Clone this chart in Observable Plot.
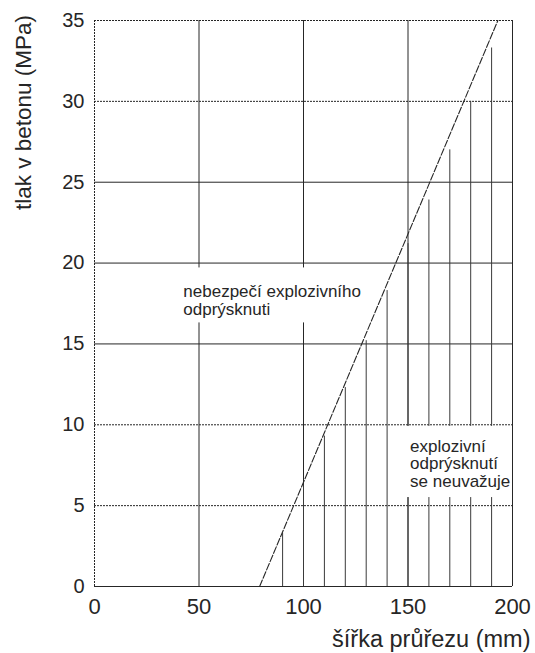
<!DOCTYPE html>
<html>
<head>
<meta charset="utf-8">
<script src="https://cdn.jsdelivr.net/npm/d3@7"></script>
<script src="https://cdn.jsdelivr.net/npm/@observablehq/plot@0.6"></script>
<style>
  html, body { margin: 0; padding: 0; background: #fff; }
  #chart { width: 535px; height: 653px; }
</style>
</head>
<body>
<div id="chart"></div>
<script>
// Axis ticks
const xTicks = [0, 50, 100, 150, 200];
const yTicks = [0, 5, 10, 15, 20, 25, 30, 35];

// Grid: solid vs. dotted horizontal lines, vertical lines
const gridYSolid = [15, 20, 25];
const gridYDotted = [5, 10, 30];
const gridX = [50, 100, 150];

// Boundary line between the two regions (width in mm, pressure in MPa)
const boundaryWidth = [79, 193];
const boundaryPressure = [0, 35];

// Hatching under the boundary
const hatchWidth = [90, 100, 110, 120, 130, 140, 150, 160, 170, 180, 190];
const hatchTop = [3.3, 6.3, 9.3, 12.3, 15.2, 18.3, 21.2, 23.9, 27.0, 30.0, 33.3];

// Region labels
const noteLines = [
  ["nebezpečí explozivního", "odprýsknuti"],
  ["explozivní", "odprýsknutí", "se neuvažuje"]
];
const noteX = [42.5, 151];
const noteY = [17.7, 7.6];
const noteBoxX1 = [40, 145];
const noteBoxX2 = [128, 199.6];
const noteBoxY1 = [16.3, 5.5];
const noteBoxY2 = [19.7, 9.9];

const boundary = boundaryWidth.map((w, i) => ({w, p: boundaryPressure[i]}));
const hatch = hatchWidth.map((w, i) => ({w, top: hatchTop[i]}));
const notes = noteLines.map((lines, i) => ({
  text: lines.join("\n"), x: noteX[i], y: noteY[i],
  x1: noteBoxX1[i], x2: noteBoxX2[i], y1: noteBoxY1[i], y2: noteBoxY2[i]
}));

const ink = "#262626";

const chart = Plot.plot({
  width: 535,
  height: 653,
  marginLeft: 94,
  marginRight: 23,
  marginTop: 20,
  marginBottom: 67,
  style: {fontFamily: "'Liberation Sans', Arial, Helvetica, sans-serif", color: ink, background: "#fff"},
  x: {domain: [0, 200]},
  y: {domain: [0, 35]},
  marks: [
    Plot.ruleY(gridYSolid, {stroke: ink, strokeWidth: 1}),
    Plot.ruleY(gridYDotted, {stroke: ink, strokeWidth: 1, strokeDasharray: "2,1"}),
    Plot.ruleX(gridX, {stroke: ink, strokeWidth: 1}),
    Plot.ruleX(hatch, {x: "w", y1: 0, y2: "top", stroke: "#3a3a3a", strokeWidth: 1}),
    Plot.line(boundary, {x: "w", y: "p", stroke: ink, strokeWidth: 1.1, strokeDasharray: "7,2"}),
    Plot.rect(notes, {x1: "x1", x2: "x2", y1: "y1", y2: "y2", fill: "#fff"}),
    Plot.text(notes, {x: "x", y: "y", text: "text", textAnchor: "start", fontSize: 17, lineHeight: 1.03, fill: ink}),
    // frame: solid bottom & right, dotted top & left
    Plot.ruleY([0], {stroke: ink, strokeWidth: 1.2}),
    Plot.ruleY([35], {stroke: ink, strokeWidth: 1, strokeDasharray: "2,1"}),
    Plot.ruleX([0], {stroke: ink, strokeWidth: 1, strokeDasharray: "2,1"}),
    Plot.ruleX([200], {stroke: ink, strokeWidth: 1}),
    Plot.axisX(xTicks, {tickSize: 0, tickPadding: 12, fontSize: 22, label: null}),
    Plot.axisY(yTicks, {tickSize: 0, tickPadding: 10, fontSize: 20, label: null}),
    Plot.text(["šířka průřezu (mm)"], {frameAnchor: "bottom-right", textAnchor: "end", dx: 18, dy: 60, fontSize: 23.5}),
    Plot.text(["tlak v betonu (MPa)"], {frameAnchor: "top-left", rotate: -90, textAnchor: "middle", dx: -79, dy: 92, fontSize: 22.5})
  ]
});

document.getElementById("chart").appendChild(chart);
</script>
</body>
</html>
